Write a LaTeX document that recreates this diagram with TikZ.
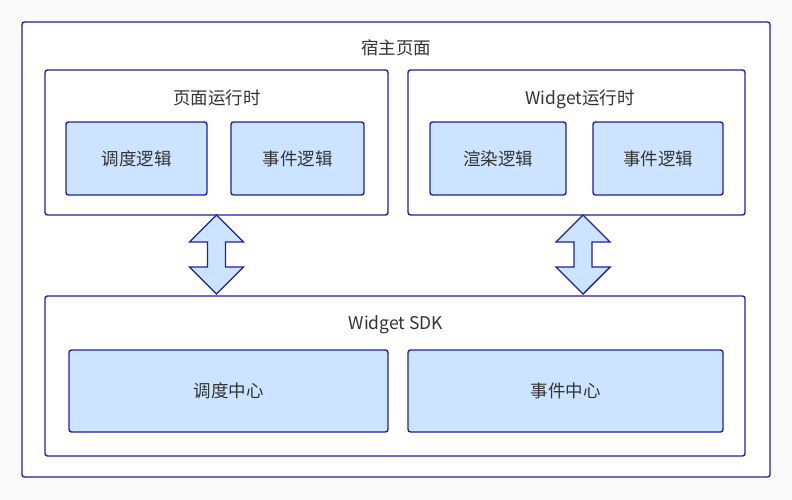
\documentclass[tikz,border=0pt]{standalone}
\usepackage{fontspec}
\setmainfont{Noto Sans CJK SC}
\definecolor{edgeblue}{RGB}{32,32,160}
\definecolor{boxblue}{RGB}{204,228,255}
\definecolor{txtgray}{RGB}{51,51,51}
\definecolor{bggray}{RGB}{249,249,249}
\begin{document}
\begin{tikzpicture}
  [x=1pt,y=-1pt,
   every node/.style={text=txtgray,font=\fontsize{17.5}{21}\selectfont,inner sep=0pt},
   frame/.style={draw=edgeblue,fill=white,line width=1.4pt,rounded corners=2.5pt},
   unit/.style={draw=edgeblue,fill=boxblue,line width=1.4pt,rounded corners=2.5pt},
   biarrow/.style={draw=edgeblue,fill=boxblue,line width=1.4pt,line join=miter}]
  \fill[bggray] (0,0) rectangle (792,500);

  \node[frame,minimum width=748pt,minimum height=455pt] (host) at (396,249.5) {};
  \node (t0) at (396,48) {宿主页面};

  \node[frame,minimum width=343pt,minimum height=145pt] (prt) at (216.5,142.5) {};
  \node (t1) at (217,98) {页面运行时};
  \node[unit,minimum width=141pt,minimum height=73pt] (n1) at (136.5,158.5) {调度逻辑};
  \node[unit,minimum width=133pt,minimum height=73pt] (n2) at (297.5,158.5) {事件逻辑};

  \node[frame,minimum width=337pt,minimum height=145pt] (wrt) at (576.5,142.5) {};
  \node (t2) at (580,99) {Widget运行时};
  \node[unit,minimum width=136pt,minimum height=73pt] (n3) at (498,158.5) {渲染逻辑};
  \node[unit,minimum width=130pt,minimum height=73pt] (n4) at (658,158.5) {事件逻辑};

  \node[frame,minimum width=700pt,minimum height=160pt] (sdk) at (395,376) {};
  \node (t3) at (396,325) {Widget SDK};
  \node[unit,minimum width=319pt,minimum height=82pt] (n5) at (228.5,391) {调度中心};
  \node[unit,minimum width=315pt,minimum height=82pt] (n6) at (565.5,391) {事件中心};

  % double arrows between the runtimes and the SDK
  \coordinate (a1) at (216.5,215);
  \coordinate (a2) at (583,215);
  \foreach \tip in {a1,a2}
    \draw[biarrow] (\tip) -- ++(27,27) -- ++(-18,0) -- ++(0,25) -- ++(18,0)
      -- ++(-27,27) -- ++(-27,-27) -- ++(18,0) -- ++(0,-25) -- ++(-18,0) -- cycle;

\end{tikzpicture}
\end{document}
